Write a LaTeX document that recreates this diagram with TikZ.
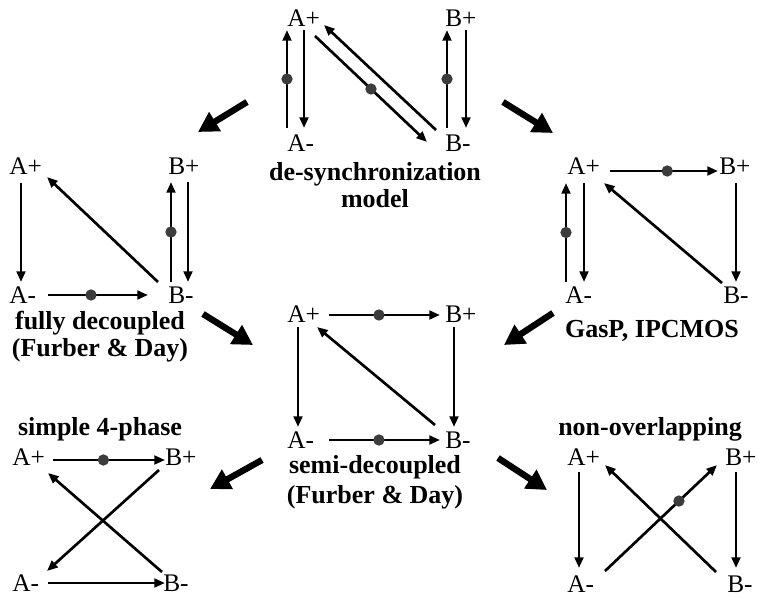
\documentclass[tikz,border=0pt]{standalone}
\usepackage{fontspec}
\setmainfont{Liberation Serif}
\usetikzlibrary{arrows.meta}
\definecolor{dotgray}{HTML}{3C3C3C}
\begin{document}
\begin{tikzpicture}[x=0.75pt,y=-0.75pt,
  lbl/.style={inner sep=0pt, anchor=base west, font=\fontsize{19}{21}\selectfont},
  heading/.style={inner sep=0pt, anchor=base, font=\fontsize{19.5}{22}\selectfont\bfseries},
  link/.style={line width=2pt, -{Triangle[length=8pt,width=6.5pt]}},
  blob/.style={circle, fill=dotgray, inner sep=0pt, minimum size=8.5pt},
  bigarrow/.style={line width=4.8pt, -{Triangle[length=15pt,width=16pt]}}]
\useasboundingbox (0,0) rectangle (759,598);

% ---------- de-synchronization model (top) ----------
\node[lbl] (dAp) at (287,27) {A+};
\node[lbl] (dBp) at (445,27) {B+};
\node[lbl] (dAm) at (287,152) {A-};
\node[lbl] (dBm) at (445,152) {B-};
\node[heading] (dT1) at (375,181) {de-synchronization};
\node[heading] (dT2) at (375,208) {model};
\draw[link] ([shift={(0,-24)}]dAm.base west) -- node[blob,pos=.5] (dd1) {} ([shift={(0,3)}]dAp.base west);
\draw[link] ([shift={(17,3)}]dAp.base west) -- ([shift={(17,-24)}]dAm.base west);
\draw[link] ([shift={(28,9)}]dAp.base west) -- node[blob,pos=.5] (dd2) {} ([shift={(-18,-10)}]dBm.base west);
\draw[link] ([shift={(-9,-22)}]dBm.base west) -- ([shift={(37,-2)}]dAp.base west);
\draw[link] ([shift={(2,-24)}]dBm.base west) -- node[blob,pos=.5] (dd3) {} ([shift={(2,3)}]dBp.base west);
\draw[link] ([shift={(21,3)}]dBp.base west) -- ([shift={(21,-24)}]dBm.base west);

% ---------- fully decoupled (left) ----------
\node[lbl] (fAp) at (9,175) {A+};
\node[lbl] (fBp) at (168,175) {B+};
\node[lbl] (fAm) at (9,303) {A-};
\node[lbl] (fBm) at (168,303) {B-};
\node[heading] (fT1) at (100,329) {fully decoupled};
\node[heading] (fT2) at (100,356) {(Furber \& Day)};
\draw[link] ([shift={(12,8)}]fAp.base west) -- ([shift={(12,-21)}]fAm.base west);
\draw[link] ([shift={(-10,-21)}]fBm.base west) -- ([shift={(38,2)}]fAp.base west);
\draw[link] ([shift={(3,-21)}]fBm.base west) -- node[blob,pos=.5] (fd1) {} ([shift={(3,7)}]fBp.base west);
\draw[link] ([shift={(20,7)}]fBp.base west) -- ([shift={(20,-21)}]fBm.base west);
\draw[link] ([shift={(39,-8)}]fAm.base west) -- node[blob,pos=.43] (fd2) {} ([shift={(-20,-8)}]fBm.base west);

% ---------- GasP, IPCMOS (right) ----------
\node[lbl] (gAp) at (567,175) {A+};
\node[lbl] (gBp) at (719,175) {B+};
\node[lbl] (gAm) at (565,303) {A-};
\node[lbl] (gBm) at (723,303) {B-};
\node[heading] (gT1) at (652,337) {GasP, IPCMOS};
\draw[link] ([shift={(43,-4)}]gAp.base west) -- node[blob,pos=.53] (gd1) {} ([shift={(-1,-4)}]gBp.base west);
\draw[link] ([shift={(1,-21)}]gAm.base west) -- node[blob,pos=.5] (gd2) {} ([shift={(-1,8)}]gAp.base west);
\draw[link] ([shift={(17,8)}]gAp.base west) -- ([shift={(19,-21)}]gAm.base west);
\draw[link] ([shift={(17,8)}]gBp.base west) -- ([shift={(13,-21)}]gBm.base west);
\draw[link] ([shift={(-1,-20)}]gBm.base west) -- ([shift={(37,8)}]gAp.base west);

% ---------- semi-decoupled (centre) ----------
\node[lbl] (sAp) at (287,322) {A+};
\node[lbl] (sBp) at (445,322) {B+};
\node[lbl] (sAm) at (287,448) {A-};
\node[lbl] (sBm) at (445,448) {B-};
\node[heading] (sT1) at (375,473) {semi-decoupled};
\node[heading] (sT2) at (375,503) {(Furber \& Day)};
\draw[link] ([shift={(42,-7)}]sAp.base west) -- node[blob,pos=.45] (sd1) {} ([shift={(-5,-7)}]sBp.base west);
\draw[link] ([shift={(11,5)}]sAp.base west) -- ([shift={(11,-21)}]sAm.base west);
\draw[link] ([shift={(9,5)}]sBp.base west) -- ([shift={(9,-21)}]sBm.base west);
\draw[link] ([shift={(-10,-23)}]sBm.base west) -- ([shift={(30,5)}]sAp.base west);
\draw[link] ([shift={(42,-8)}]sAm.base west) -- node[blob,pos=.45] (sd2) {} ([shift={(-5,-8)}]sBm.base west);

% ---------- simple 4-phase (bottom left) ----------
\node[heading] (pT1) at (100,435) {simple 4-phase};
\node[lbl] (pAp) at (12,465) {A+};
\node[lbl] (pBp) at (165,465) {B+};
\node[lbl] (pAm) at (12,591) {A-};
\node[lbl] (pBm) at (163,591) {B-};
\draw[link] ([shift={(41,-5)}]pAp.base west) -- node[blob,pos=.45] (pd1) {} ([shift={(0,-5)}]pBp.base west);
\draw[link] ([shift={(-6,5)}]pBp.base west) -- ([shift={(35,-20)}]pAm.base west);
\draw[link] ([shift={(-1,-19)}]pBm.base west) -- ([shift={(36,8)}]pAp.base west);
\draw[link] ([shift={(36,-8)}]pAm.base west) -- ([shift={(2,-8)}]pBm.base west);

% ---------- non-overlapping (bottom right) ----------
\node[heading] (nT1) at (650,435) {non-overlapping};
\node[lbl] (nAp) at (567,465) {A+};
\node[lbl] (nBp) at (725,465) {B+};
\node[lbl] (nAm) at (567,592) {A-};
\node[lbl] (nBm) at (727,592) {B-};
\draw[link] ([shift={(12,7)}]nAp.base west) -- ([shift={(12,-24)}]nAm.base west);
\draw[link] ([shift={(11,7)}]nBp.base west) -- ([shift={(9,-24)}]nBm.base west);
\draw[link] ([shift={(38,-21)}]nAm.base west) -- node[blob,pos=.66] (nd1) {} ([shift={(-8,0)}]nBp.base west);
\draw[link] ([shift={(-11,-20)}]nBm.base west) -- ([shift={(38,0)}]nAp.base west);

% ---------- refinement arrows between the models ----------
\coordinate (r1s) at (247,102); \coordinate (r1e) at (198,132);
\coordinate (r2s) at (503,102); \coordinate (r2e) at (553,133);
\coordinate (r3s) at (203,314); \coordinate (r3e) at (253,345);
\coordinate (r4s) at (553,313); \coordinate (r4e) at (504,345);
\coordinate (r5s) at (262,460); \coordinate (r5e) at (210,489);
\coordinate (r6s) at (498,458); \coordinate (r6e) at (547,490);
\draw[bigarrow] (r1s) -- (r1e);
\draw[bigarrow] (r2s) -- (r2e);
\draw[bigarrow] (r3s) -- (r3e);
\draw[bigarrow] (r4s) -- (r4e);
\draw[bigarrow] (r5s) -- (r5e);
\draw[bigarrow] (r6s) -- (r6e);
\end{tikzpicture}
\end{document}
